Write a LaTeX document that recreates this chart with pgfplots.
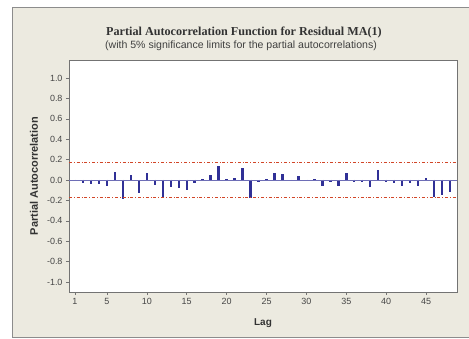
\documentclass[border=0pt]{standalone}
\usepackage{pgfplots}
\pgfplotsset{compat=1.18}
\usepackage{fontspec}
\setmainfont{Liberation Sans}
\newfontfamily\titlefont{Liberation Serif}
\definecolor{bgbeige}{RGB}{236,234,224}
\definecolor{framegray}{RGB}{140,140,140}
\definecolor{barblue}{RGB}{48,48,150}
\definecolor{limred}{RGB}{210,70,40}
\definecolor{ticktext}{RGB}{70,70,70}
\pgfplotstableread{
lag pacf
1 -0.010
2 -0.025
3 -0.035
4 -0.035
5 -0.055
6 0.080
7 -0.190
8 0.050
9 -0.130
10 0.070
11 -0.050
12 -0.180
13 -0.070
14 -0.075
15 -0.100
16 -0.030
17 0.010
18 0.045
19 0.140
20 0.005
21 0.015
22 0.115
23 -0.180
24 -0.020
25 0.005
26 0.065
27 0.055
28 -0.010
29 0.040
30 -0.010
31 0.010
32 -0.055
33 -0.020
34 -0.060
35 0.065
36 -0.020
37 -0.020
38 -0.070
39 0.095
40 -0.020
41 -0.030
42 -0.060
43 -0.030
44 -0.055
45 0.020
46 -0.170
47 -0.150
48 -0.115
}\pacftable
\begin{document}
\begin{tikzpicture}
\useasboundingbox (-69bp,-47bp) rectangle (400bp,292bp);
\fill[white] (-69bp,-47bp) rectangle (400bp,292bp);
\filldraw[fill=bgbeige, draw=framegray, line width=0.8bp] (-57bp,-45bp) rectangle (410bp,285bp);
\node[font=\titlefont\bfseries\fontsize{12.2}{13}\selectfont, text=black!80] at (175bp,259bp) {Partial Autocorrelation Function for Residual MA(1)};
\node[font=\fontsize{10.6}{12}\selectfont, text=black!75] at (172bp,246bp) {(with 5\% significance limits for the partial autocorrelations)};
\begin{axis}[
  at={(0,0)}, anchor=south west,
  scale only axis, width=388bp, height=232bp,
  xmin=0.25, xmax=48.87, ymin=-1.098, ymax=1.176,
  axis background/.style={fill=white},
  axis line style={draw=black!55, line width=0.6bp},
  xtick={1,5,10,15,20,25,30,35,40,45},
  ytick={-1,-0.8,-0.6,-0.4,-0.2,0,0.2,0.4,0.6,0.8,1},
  yticklabel style={/pgf/number format/.cd, fixed, fixed zerofill, precision=1},
  /pgf/number format/assume math mode=true,
  tick label style={font=\fontsize{9}{10}\selectfont, text=ticktext},
  tick align=outside, major tick length=3bp,
  tick style={draw=black!55, line width=0.5bp},
  xtick pos=bottom, ytick pos=left,
  xlabel={Lag}, ylabel={Partial Autocorrelation},
  xlabel style={font=\bfseries\fontsize{10}{11}\selectfont, text=black!80, at={(axis description cs:0.5,-0.134)}, anchor=center},
  ylabel style={font=\bfseries\fontsize{11}{12}\selectfont, text=black!80, at={(axis description cs:-0.09,0.5)}, anchor=center},
  clip=false,
]
\addplot[barblue, line width=2.4bp, ycomb, mark=none] table[x=lag, y=pacf] {\pacftable};
\addplot[limred, line width=0.7bp, dash dot] coordinates {(0.25,0.172) (48.87,0.172)};
\addplot[limred, line width=0.7bp, dash dot] coordinates {(0.25,-0.172) (48.87,-0.172)};
\addplot[barblue!70, line width=0.5bp] coordinates {(0.25,0) (48.87,0)};
\end{axis}
\end{tikzpicture}
\end{document}
